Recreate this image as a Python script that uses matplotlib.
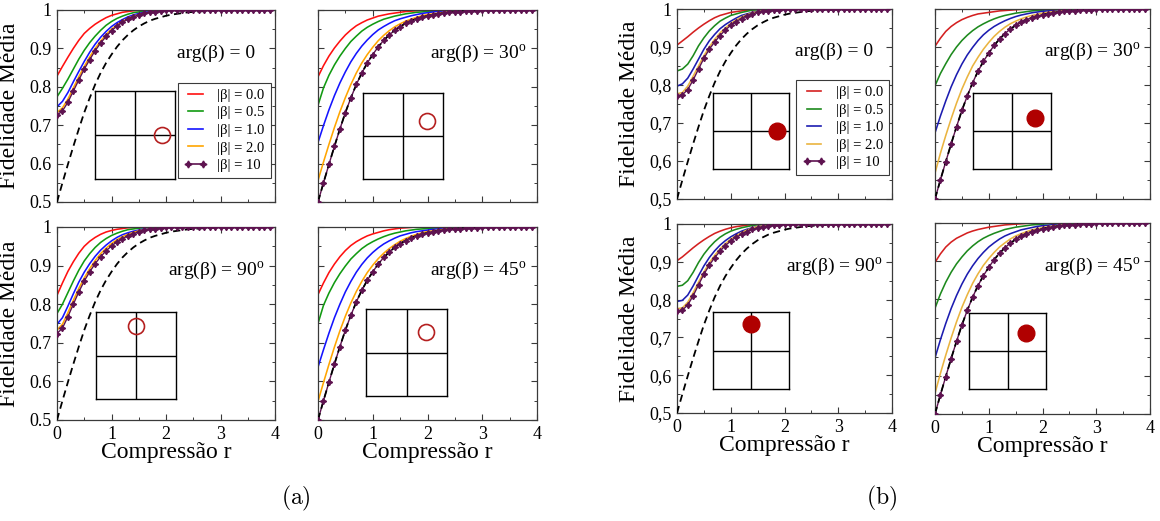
import numpy as np
import matplotlib.pyplot as plt
from matplotlib.lines import Line2D
from matplotlib.ticker import MultipleLocator

plt.rcParams.update({
    "font.family": "Liberation Serif",
    "mathtext.fontset": "custom",
    "mathtext.rm": "Liberation Serif",
    "mathtext.it": "Liberation Serif:italic",
    "axes.linewidth": 0.9,
})

W, H = 1160, 521  # output size in pixels

# ------------------------------------------------------------
# data
# ------------------------------------------------------------
r = [0.0, 0.1, 0.2, 0.3, 0.4, 0.5, 0.6, 0.7, 0.8, 0.9,
     1.0, 1.1, 1.2, 1.3, 1.4, 1.5, 1.6, 1.7, 1.8, 1.9,
     2.0, 2.1, 2.2, 2.3, 2.4, 2.5, 2.6, 2.7, 2.8, 2.9,
     3.0, 3.1, 3.2, 3.3, 3.4, 3.5, 3.6, 3.7, 3.8, 3.9]

# dashed curve (same in every panel)
fid_ref = [0.500, 0.550, 0.598, 0.645, 0.690, 0.733, 0.771, 0.806, 0.836, 0.862,
           0.884, 0.904, 0.921, 0.935, 0.947, 0.957, 0.965, 0.972, 0.977, 0.981,
           0.985, 0.988, 0.990, 0.992, 0.994, 0.995, 0.996, 0.997, 0.998, 0.998,
           0.999, 0.999, 0.999, 1.000, 1.000, 1.000, 1.000, 1.000, 1.000, 1.000]

legend_labels = ["|β| = 0.0", "|β| = 0.5", "|β| = 1.0", "|β| = 2.0", "|β| = 10"]
yticks = [0.5, 0.6, 0.7, 0.8, 0.9, 1.0]
ytick_labels_a = ["0.5", "0.6", "0.7", "0.8", "0.9", "1"]
ytick_labels_b = ["0,5", "0,6", "0,7", "0,8", "0,9", "1"]
xticks = [0, 1, 2, 3, 4]
xtick_labels = ["0", "1", "2", "3", "4"]

# ---- (a) arg = 0
a0_red = [0.828, 0.853, 0.877, 0.900, 0.921, 0.939, 0.952, 0.963, 0.972, 0.980,
          0.986, 0.990, 0.994, 0.996, 0.998, 0.999, 1.0, 1.0, 1.0, 1.0, 1.0]
a0_green = [0.774, 0.796, 0.820, 0.846, 0.872, 0.895, 0.915, 0.932, 0.947, 0.960,
            0.970, 0.978, 0.984, 0.989, 0.993, 0.995, 0.997, 0.998, 0.999, 1.0, 1.0]
a0_blue = [0.748, 0.762, 0.785, 0.813, 0.840, 0.866, 0.890, 0.911, 0.929, 0.944,
           0.957, 0.967, 0.975, 0.982, 0.987, 0.991, 0.994, 0.996, 0.998, 0.999, 1.0, 1.0]
a0_orange = [0.733, 0.745, 0.768, 0.797, 0.826, 0.853, 0.878, 0.900, 0.919, 0.936,
             0.950, 0.961, 0.970, 0.978, 0.984, 0.988, 0.992, 0.994, 0.996, 0.998,
             0.999, 1.0, 1.0]
a0_b10 = [0.726, 0.737, 0.760, 0.789, 0.818, 0.846, 0.871, 0.894, 0.914, 0.931,
          0.946, 0.958, 0.968, 0.976, 0.982, 0.987, 0.991, 0.994, 0.996, 0.998,
          0.999, 1.0, 1.0, 1.0, 1.0, 1.0, 1.0, 1.0, 1.0, 1.0,
          1.0, 1.0, 1.0, 1.0, 1.0, 1.0, 1.0, 1.0, 1.0, 1.0]

# ---- (a) arg = 30
a30_red = [0.826, 0.855, 0.880, 0.901, 0.919, 0.935, 0.948, 0.959, 0.967, 0.974,
           0.979, 0.984, 0.987, 0.990, 0.992, 0.994, 0.996, 0.997, 0.998, 0.999, 1.0, 1.0]
a30_green = [0.752, 0.797, 0.830, 0.857, 0.880, 0.900, 0.918, 0.932, 0.945, 0.955,
             0.963, 0.970, 0.976, 0.980, 0.984, 0.987, 0.990, 0.992, 0.994, 0.995,
             0.996, 0.997, 0.998, 0.999, 1.0]
a30_blue = [0.655, 0.699, 0.740, 0.777, 0.810, 0.839, 0.865, 0.887, 0.906, 0.922,
            0.936, 0.948, 0.957, 0.965, 0.972, 0.977, 0.981, 0.985, 0.988, 0.991,
            0.993, 0.995, 0.996, 0.997, 0.998, 0.999, 1.0]
a30_orange = [0.556, 0.604, 0.650, 0.694, 0.735, 0.772, 0.806, 0.836, 0.862, 0.884,
              0.903, 0.920, 0.934, 0.946, 0.956, 0.964, 0.971, 0.976, 0.981, 0.985,
              0.988, 0.990, 0.992, 0.994, 0.995, 0.996, 0.997, 0.998, 0.999, 1.0]
a30_b10 = fid_ref

# ---- (a) arg = 90
a90_red = [0.823, 0.855, 0.885, 0.910, 0.932, 0.950, 0.963, 0.973, 0.981, 0.987,
           0.991, 0.994, 0.996, 0.998, 0.999, 1.0, 1.0, 1.0, 1.0, 1.0]
a90_green = [0.776, 0.800, 0.830, 0.860, 0.888, 0.912, 0.931, 0.947, 0.960, 0.970,
             0.978, 0.984, 0.989, 0.993, 0.995, 0.997, 0.998, 0.999, 1.0, 1.0]
a90_blue = [0.748, 0.765, 0.795, 0.827, 0.857, 0.883, 0.905, 0.924, 0.940, 0.953,
            0.964, 0.973, 0.980, 0.985, 0.989, 0.992, 0.995, 0.997, 0.998, 0.999, 1.0, 1.0]
a90_orange = [0.733, 0.748, 0.778, 0.810, 0.841, 0.868, 0.892, 0.913, 0.931, 0.945,
              0.957, 0.967, 0.975, 0.981, 0.986, 0.990, 0.993, 0.995, 0.997, 0.998,
              0.999, 1.0, 1.0]
a90_b10 = [0.724, 0.738, 0.768, 0.800, 0.832, 0.860, 0.884, 0.905, 0.923, 0.938,
           0.951, 0.961, 0.970, 0.977, 0.983, 0.987, 0.991, 0.994, 0.996, 0.998,
           0.999, 1.0, 1.0, 1.0, 1.0, 1.0, 1.0, 1.0, 1.0, 1.0,
           1.0, 1.0, 1.0, 1.0, 1.0, 1.0, 1.0, 1.0, 1.0, 1.0]

# ---- (a) arg = 45
a45_red = [0.825, 0.855, 0.882, 0.904, 0.923, 0.939, 0.952, 0.962, 0.970, 0.977,
           0.982, 0.986, 0.990, 0.993, 0.995, 0.997, 0.998, 0.999, 1.0, 1.0]
a45_green = [0.750, 0.797, 0.829, 0.856, 0.879, 0.899, 0.917, 0.931, 0.944, 0.954,
             0.962, 0.969, 0.975, 0.980, 0.984, 0.987, 0.990, 0.992, 0.994, 0.995,
             0.996, 0.997, 0.998, 0.999, 1.0]
a45_blue = [0.637, 0.682, 0.725, 0.765, 0.800, 0.832, 0.859, 0.883, 0.903, 0.920,
            0.934, 0.946, 0.956, 0.964, 0.971, 0.977, 0.981, 0.985, 0.988, 0.990,
            0.992, 0.994, 0.995, 0.997, 0.998, 0.999, 1.0]
a45_orange = [0.548, 0.597, 0.644, 0.689, 0.731, 0.769, 0.803, 0.833, 0.859, 0.882,
              0.901, 0.918, 0.932, 0.944, 0.954, 0.963, 0.970, 0.976, 0.981, 0.985,
              0.988, 0.990, 0.992, 0.994, 0.995, 0.996, 0.997, 0.998, 0.999, 1.0]
a45_b10 = fid_ref

# ---- (b) arg = 0
b0_red = [0.905, 0.916, 0.927, 0.939, 0.950, 0.960, 0.969, 0.977, 0.983, 0.987,
          0.991, 0.993, 0.995, 0.997, 0.998, 0.999, 1.0, 1.0, 1.0]
b0_green = [0.837, 0.842, 0.855, 0.877, 0.903, 0.924, 0.942, 0.956, 0.968, 0.976,
            0.983, 0.987, 0.991, 0.994, 0.997, 0.998, 0.999, 1.0, 1.0]
b0_blue = [0.797, 0.803, 0.818, 0.842, 0.868, 0.894, 0.916, 0.933, 0.948, 0.959,
           0.968, 0.976, 0.983, 0.987, 0.991, 0.994, 0.997, 0.998, 0.999, 1.0, 1.0]
b0_orange = [0.777, 0.780, 0.797, 0.823, 0.850, 0.877, 0.900, 0.920, 0.937, 0.950,
             0.962, 0.971, 0.979, 0.985, 0.990, 0.993, 0.996, 0.997, 0.998, 0.999, 1.0, 1.0]
b0_b10 = [0.772, 0.774, 0.788, 0.813, 0.842, 0.870, 0.894, 0.913, 0.930, 0.945,
          0.957, 0.967, 0.975, 0.982, 0.987, 0.991, 0.994, 0.996, 0.997, 0.998,
          0.999, 1.0, 1.0, 1.0, 1.0, 1.0, 1.0, 1.0, 1.0, 1.0,
          1.0, 1.0, 1.0, 1.0, 1.0, 1.0, 1.0, 1.0, 1.0, 1.0]

# ---- (b) arg = 30
b30_red = [0.902, 0.923, 0.941, 0.954, 0.964, 0.972, 0.978, 0.983, 0.987, 0.989,
           0.991, 0.993, 0.995, 0.996, 0.997, 0.998, 0.999, 1.0, 1.0]
b30_green = [0.798, 0.830, 0.856, 0.880, 0.900, 0.917, 0.931, 0.943, 0.953, 0.961,
             0.968, 0.974, 0.979, 0.983, 0.986, 0.989, 0.991, 0.993, 0.995, 0.996,
             0.997, 0.998, 0.999, 1.0]
b30_blue = [0.674, 0.718, 0.758, 0.795, 0.827, 0.855, 0.879, 0.899, 0.917, 0.932,
            0.944, 0.954, 0.962, 0.969, 0.975, 0.980, 0.984, 0.987, 0.990, 0.992,
            0.994, 0.995, 0.996, 0.997, 0.998, 0.999, 1.0]
b30_orange = [0.568, 0.620, 0.667, 0.711, 0.752, 0.789, 0.821, 0.850, 0.873, 0.894,
              0.912, 0.928, 0.941, 0.952, 0.961, 0.968, 0.974, 0.979, 0.983, 0.986,
              0.989, 0.991, 0.993, 0.994, 0.996, 0.997, 0.998, 0.999, 1.0]
b30_b10 = fid_ref

# ---- (b) arg = 90
b90_red = [0.903, 0.913, 0.925, 0.937, 0.948, 0.958, 0.967, 0.975, 0.981, 0.986,
           0.990, 0.993, 0.995, 0.997, 0.998, 0.999, 1.0, 1.0]
b90_green = [0.835, 0.838, 0.850, 0.872, 0.898, 0.920, 0.938, 0.953, 0.965, 0.974,
             0.981, 0.986, 0.990, 0.993, 0.996, 0.998, 0.999, 1.0, 1.0]
b90_blue = [0.795, 0.798, 0.812, 0.836, 0.863, 0.889, 0.911, 0.929, 0.944, 0.956,
            0.966, 0.974, 0.981, 0.986, 0.990, 0.993, 0.996, 0.998, 0.999, 1.0, 1.0]
b90_orange = [0.776, 0.778, 0.793, 0.818, 0.846, 0.873, 0.897, 0.917, 0.934, 0.948,
              0.960, 0.969, 0.977, 0.984, 0.989, 0.993, 0.995, 0.997, 0.998, 0.999, 1.0, 1.0]
b90_b10 = [0.770, 0.772, 0.786, 0.810, 0.839, 0.867, 0.891, 0.911, 0.928, 0.943,
           0.955, 0.965, 0.973, 0.980, 0.986, 0.990, 0.993, 0.995, 0.997, 0.998,
           0.999, 1.0, 1.0, 1.0, 1.0, 1.0, 1.0, 1.0, 1.0, 1.0,
           1.0, 1.0, 1.0, 1.0, 1.0, 1.0, 1.0, 1.0, 1.0, 1.0]

# ---- (b) arg = 45
b45_red = [0.897, 0.919, 0.937, 0.950, 0.960, 0.967, 0.974, 0.979, 0.983, 0.986,
           0.989, 0.991, 0.993, 0.995, 0.996, 0.997, 0.998, 0.999, 1.0, 1.0]
b45_green = [0.777, 0.814, 0.845, 0.871, 0.893, 0.911, 0.927, 0.940, 0.951, 0.960,
             0.967, 0.973, 0.978, 0.983, 0.986, 0.989, 0.991, 0.993, 0.995, 0.996,
             0.997, 0.998, 0.999, 1.0]
b45_blue = [0.647, 0.694, 0.737, 0.776, 0.810, 0.840, 0.866, 0.888, 0.907, 0.923,
            0.937, 0.948, 0.958, 0.966, 0.972, 0.977, 0.982, 0.985, 0.988, 0.991,
            0.993, 0.994, 0.996, 0.997, 0.998, 0.999, 1.0]
b45_orange = [0.554, 0.606, 0.654, 0.699, 0.741, 0.779, 0.812, 0.842, 0.867, 0.889,
              0.907, 0.923, 0.937, 0.948, 0.958, 0.966, 0.972, 0.977, 0.982, 0.985,
              0.988, 0.990, 0.992, 0.994, 0.995, 0.996, 0.997, 0.998, 0.999, 1.0]
b45_b10 = fid_ref

# ------------------------------------------------------------
# styling
# ------------------------------------------------------------
colors_a = ["#ff1010", "#119a11", "#1414ff", "#ffa500"]
colors_b = ["#d42020", "#1d8a1d", "#1c1cb0", "#eab440"]
purple = "#5e1350"
spine_col = "#3a3a3a"
star = (4, 1, 0)

fig = plt.figure(figsize=(W / 100, H / 100), dpi=100)


def px_axes(x0, y0, x1, y1):
    # axes from pixel box (top-left origin)
    return fig.add_axes([x0 / W, 1 - y1 / H, (x1 - x0) / W, (y1 - y0) / H])


def arg_text(angle):
    if angle == 0:
        return "arg(β) = 0"
    return "arg(β) = %d$^{\\rm o}$" % angle


def panel(box, curves, b10, angle, colors, yt_labels, left, bottom, legend=False):
    ax = px_axes(*box)
    for y, c in zip(curves, colors):
        ax.plot(r[:len(y)], y, color=c, lw=1.15, zorder=2)
    ax.plot(r, b10, color=purple, lw=1.0, zorder=2)
    ax.plot(r, fid_ref, color="black", lw=1.3, dashes=(4, 2.5), zorder=3)
    ax.plot(r, b10, color=purple, lw=0, marker=star, ms=4.5, zorder=4)

    ax.set_xlim(0, 4)
    ax.set_ylim(0.5, 1.0)
    ax.set_xticks(xticks)
    ax.set_yticks(yticks)
    ax.xaxis.set_minor_locator(MultipleLocator(0.5))
    ax.yaxis.set_minor_locator(MultipleLocator(0.05))
    ax.tick_params(which="both", direction="in", top=True, right=True,
                   color=spine_col, labelsize=13, pad=4)
    ax.tick_params(which="major", length=4, width=0.8)
    ax.tick_params(which="minor", length=2.5, width=0.7)
    for s in ax.spines.values():
        s.set_color(spine_col)

    if left:
        ax.set_yticklabels(yt_labels)
        ax.set_ylabel("Fidelidade Média", fontsize=17)
        ax.yaxis.set_label_coords(-0.17, 0.5)
    else:
        ax.set_yticklabels([])
    if bottom:
        ax.set_xticklabels(xtick_labels)
        ax.set_xlabel("Compressão r", fontsize=17, va="center")
        ax.xaxis.set_label_coords(0.5, -0.17)
    else:
        ax.set_xticklabels([])

    ax.text(0.73, 0.775, arg_text(angle), transform=ax.transAxes,
            ha="center", va="center", fontsize=14)

    if legend:
        handles = [Line2D([], [], color=c, lw=1.2) for c in colors]
        handles.append(Line2D([], [], color=purple, lw=1.2, marker=star, ms=5))
        leg = ax.legend(handles, legend_labels, loc="lower left",
                        bbox_to_anchor=(0.555, 0.125), borderaxespad=0,
                        fontsize=10.5, labelspacing=0.3, handlelength=1.6,
                        handletextpad=0.7, borderpad=0.4, numpoints=2,
                        fancybox=False, framealpha=1)
        leg.get_frame().set_edgecolor(spine_col)
        leg.get_frame().set_linewidth(0.8)
    return ax


def inset(box, angle, filled):
    ia = px_axes(*box)
    ia.set_xlim(-1, 1)
    ia.set_ylim(-1, 1)
    ia.set_xticks([])
    ia.set_yticks([])
    ia.axhline(0, color="black", lw=1.0)
    ia.axvline(0, color="black", lw=1.0)
    for s in ia.spines.values():
        s.set_linewidth(1.0)
        s.set_color("black")
    th = np.deg2rad(angle)
    if filled:
        ia.plot(0.68 * np.cos(th), 0.68 * np.sin(th), "o", ms=12,
                mfc="#b00000", mec="#b00000", clip_on=False)
    else:
        ia.plot(0.68 * np.cos(th), 0.68 * np.sin(th), "o", ms=11.5,
                mfc="none", mec="#b52020", mew=1.2, clip_on=False)


# ---- group (a)
panel((57, 10, 275, 202), [a0_red, a0_green, a0_blue, a0_orange], a0_b10, 0,
      colors_a, ytick_labels_a, True, False, legend=True)
panel((318, 10, 537, 202), [a30_red, a30_green, a30_blue, a30_orange], a30_b10, 30,
      colors_a, ytick_labels_a, False, False)
panel((57, 227, 275, 420), [a90_red, a90_green, a90_blue, a90_orange], a90_b10, 90,
      colors_a, ytick_labels_a, True, True)
panel((318, 227, 537, 420), [a45_red, a45_green, a45_blue, a45_orange], a45_b10, 45,
      colors_a, ytick_labels_a, False, True)

inset((95, 91, 175, 179), 0, False)
inset((363, 93, 443, 179), 30, False)
inset((96, 312, 176, 399), 90, False)
inset((366, 309, 447, 396), 45, False)

# ---- group (b)
panel((677, 9, 892, 199), [b0_red, b0_green, b0_blue, b0_orange], b0_b10, 0,
      colors_b, ytick_labels_b, True, False, legend=True)
panel((935, 9, 1150, 199), [b30_red, b30_green, b30_blue, b30_orange], b30_b10, 30,
      colors_b, ytick_labels_b, False, False)
panel((677, 224, 892, 413), [b90_red, b90_green, b90_blue, b90_orange], b90_b10, 90,
      colors_b, ytick_labels_b, True, True)
panel((935, 223, 1150, 414), [b45_red, b45_green, b45_blue, b45_orange], b45_b10, 45,
      colors_b, ytick_labels_b, False, True)

inset((713, 93, 789, 169), 0, True)
inset((973, 93, 1051, 169), 30, True)
inset((713, 312, 789, 389), 90, True)
inset((969, 313, 1046, 389), 45, True)

fig.text(296 / W, 1 - 498 / H, r"$\mathrm{(a)}$", math_fontfamily="cm",
         ha="center", va="center", fontsize=17)
fig.text(882 / W, 1 - 498 / H, r"$\mathrm{(b)}$", math_fontfamily="cm",
         ha="center", va="center", fontsize=17)

fig.savefig("out.png", dpi=100, facecolor="white")
